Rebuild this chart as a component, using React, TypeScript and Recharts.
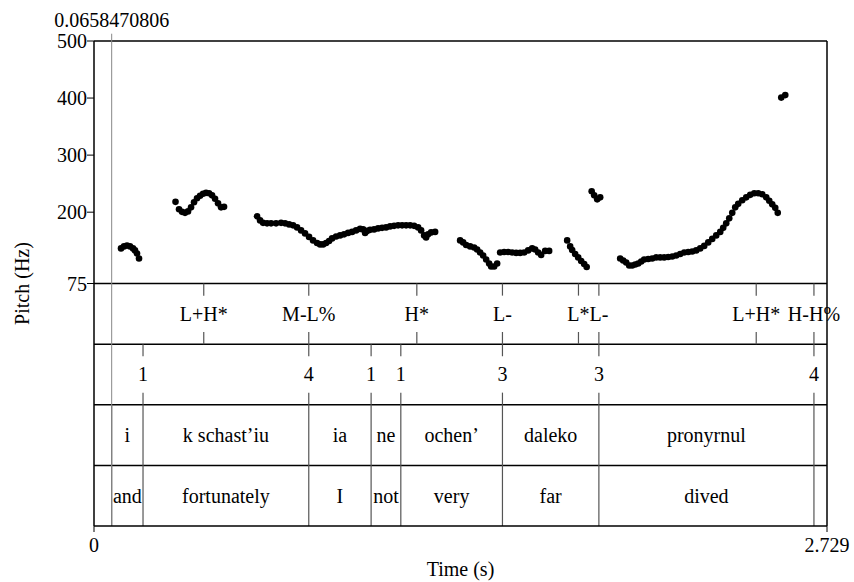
import React from 'react';
import { ScatterChart, Scatter, XAxis, YAxis, ReferenceLine, ReferenceDot } from 'recharts';

const FONT = '"Liberation Serif", "Times New Roman", serif';
const T_END = 2.729;
const CURSOR = 0.0658470806;

// Pitch track (time in s, F0 in Hz)
const pitchTime = [
  0.1006, 0.1117, 0.1229, 0.1341, 0.1453, 0.1527, 0.1601, 0.1676,
  0.3035, 0.3166, 0.3277, 0.3389, 0.3501, 0.3613, 0.3724, 0.3836, 0.3948, 0.4060, 0.4171, 0.4283, 0.4395, 0.4507, 0.4618, 0.4730, 0.4842,
  0.6071, 0.6183, 0.6294, 0.6443, 0.6592, 0.6778, 0.6965, 0.7114, 0.7263, 0.7412, 0.7561, 0.7710, 0.7858, 0.8007, 0.8156, 0.8305, 0.8417, 0.8529,
  0.8641, 0.8752, 0.8864, 0.9013, 0.9162, 0.9311, 0.9460, 0.9609, 0.9758, 0.9907, 1.0019, 1.0093, 1.0168, 1.0279, 1.0428, 1.0577, 1.0726, 1.0875,
  1.1024, 1.1173, 1.1322, 1.1471, 1.1620, 1.1769, 1.1918, 1.2067, 1.2179, 1.2291, 1.2365, 1.2439, 1.2551, 1.2700,
  1.3631, 1.3743, 1.3855, 1.4004, 1.4153, 1.4264, 1.4376, 1.4488, 1.4600, 1.4711, 1.4786, 1.4898, 1.5009,
  1.5121, 1.5270, 1.5419, 1.5568, 1.5717, 1.5866, 1.6015, 1.6164, 1.6313, 1.6425, 1.6536, 1.6648, 1.6797, 1.6946,
  1.7616, 1.7728, 1.7803, 1.7914, 1.8026, 1.8138, 1.8250, 1.8343,
  1.8529, 1.8622, 1.8734, 1.8846,
  1.9590, 1.9702, 1.9814, 1.9926, 2.0037, 2.0149, 2.0261, 2.0373, 2.0484, 2.0633, 2.0782, 2.0931, 2.1080, 2.1229, 2.1378, 2.1527,
  2.1676, 2.1825, 2.1974, 2.2123, 2.2272, 2.2421, 2.2570, 2.2719, 2.2868, 2.3017, 2.3166, 2.3315, 2.3426, 2.3538, 2.3650, 2.3762,
  2.3873, 2.3985, 2.4134, 2.4283, 2.4432, 2.4581, 2.4730, 2.4879, 2.5028, 2.5140, 2.5251, 2.5363, 2.5456,
  2.5587, 2.5736,
];
const pitchHz = [
  136.5, 140.0, 141.7, 140.0, 136.5, 133.0, 127.7, 118.9,
  218.1, 205.0, 200.6, 198.8, 201.4, 208.5, 217.3, 224.3, 228.7, 232.2, 233.9, 233.1, 229.5, 223.4, 215.5, 208.5, 209.3,
  192.7, 185.6, 181.3, 180.4, 180.4, 180.4, 181.3, 180.4, 178.6, 176.9, 173.3, 168.1, 162.8, 156.7, 150.5, 146.1, 143.5, 143.5,
  146.1, 149.6, 154.0, 157.5, 159.3, 161.1, 163.7, 165.4, 168.1, 170.7, 169.8, 163.7, 167.2, 169.0, 169.8, 171.6, 172.5, 173.3,
  175.1, 176.0, 176.9, 176.9, 176.9, 176.9, 176.0, 173.3, 168.1, 159.3, 155.8, 161.1, 164.6, 165.4,
  150.5, 147.0, 142.6, 140.0, 138.2, 134.7, 129.4, 124.2, 117.1, 110.1, 104.9, 104.9, 110.1,
  129.4, 130.3, 130.3, 129.4, 128.6, 128.6, 129.4, 133.0, 136.5, 134.7, 129.4, 125.1, 132.1, 132.1,
  150.5, 140.0, 133.8, 126.8, 120.7, 114.5, 109.2, 104.0,
  236.6, 229.5, 222.5, 226.0,
  118.9, 115.4, 111.9, 106.6, 106.6, 108.4, 110.1, 113.6, 117.1, 118.0, 118.9, 120.7, 120.7, 120.7, 121.5, 122.4,
  124.2, 126.8, 129.4, 130.3, 131.2, 133.0, 136.5, 140.9, 147.0, 153.2, 159.3, 165.4, 172.5, 180.4, 189.2, 198.8,
  208.5, 214.6, 220.8, 226.0, 230.4, 233.1, 233.1, 231.3, 226.0, 219.9, 213.7, 207.6, 198.8,
  400.8, 405.2,
];
const pitchTicks = [75, 200, 300, 400, 500];

// Tier 1: tones (point tier)
const toneTimes = [0.4086, 0.7996, 1.2019, 1.5207, 1.8037, 1.8797, 2.4655, 2.6804];
const toneLabels = ['L+H*', 'M-L%', 'H*', 'L-', 'L*', 'L-', 'L+H*', 'H-H%'];

// Tier 2: breaks (point tier)
const breakTimes = [0.1825, 0.7996, 1.0317, 1.1423, 1.5207, 1.8797, 2.6804];
const breakLabels = ['1', '4', '1', '1', '3', '3', '4'];

// Tiers 3 & 4: words and glosses (interval tiers)
const wordBounds = [0.0658, 0.1825, 0.7996, 1.0317, 1.1423, 1.5207, 1.8797, 2.6804];
const words = ['i', 'k schast\u2019iu', 'ia', 'ne', 'ochen\u2019', 'daleko', 'pronyrnul'];
const glosses = ['and', 'fortunately', 'I', 'not', 'very', 'far', 'dived'];

const txt = { fontFamily: FONT, fontSize: 20, fill: '#000' };

const TextShape = (p: any) => (
  <text x={p.cx} y={p.cy} dy="0.35em" textAnchor="middle" fontFamily={FONT} fontSize={20} fill="#000">
    {p.payload.label}
  </text>
);

const DotShape = (p: any) => <circle cx={p.cx} cy={p.cy} r={3.3} fill="#000" />;

export default function App() {
  const pitchData = pitchTime.map((t, i) => ({ t, hz: pitchHz[i] }));
  const toneData = toneTimes.map((t, i) => ({ t, y: 3.5, label: toneLabels[i] }));
  const breakData = breakTimes.map((t, i) => ({ t, y: 2.5, label: breakLabels[i] }));
  const wordData = words.map((w, i) => ({ t: (wordBounds[i] + wordBounds[i + 1]) / 2, y: 1.5, label: w }));
  const glossData = glosses.map((w, i) => ({ t: (wordBounds[i] + wordBounds[i + 1]) / 2, y: 0.5, label: w }));

  const frame = { stroke: '#000', strokeWidth: 1.5 };
  const bound = { stroke: '#555', strokeWidth: 1.2 };

  return (
    <div style={{ position: 'absolute', left: 0, top: 0, width: 854, height: 582, background: '#fff' }}>
      <ScatterChart width={854} height={582} margin={{ top: 41, right: 27, bottom: 0, left: 0 }}>
        <XAxis
          dataKey="t"
          type="number"
          domain={[0, T_END]}
          ticks={[0, T_END]}
          interval={0}
          tickFormatter={(v: number) => (v === 0 ? '0' : String(v))}
          height={56}
          tickSize={6}
          tickMargin={6}
          axisLine={{ stroke: '#000', strokeWidth: 1.5 }}
          tickLine={{ stroke: '#000' }}
          tick={txt}
          label={{ value: 'Time (s)', position: 'insideBottom', offset: 6, ...txt }}
        />
        <YAxis
          yAxisId="pitch"
          dataKey="hz"
          type="number"
          domain={[-350, 500]}
          ticks={pitchTicks}
          interval={0}
          width={94}
          tickSize={7}
          tickMargin={0}
          axisLine={{ stroke: '#000', strokeWidth: 1.5 }}
          tickLine={{ stroke: '#000' }}
          tick={txt}
          label={{ value: 'Pitch (Hz)', angle: -90, position: 'insideLeft', offset: 22, style: { textAnchor: 'middle' }, ...txt }}
        />
        <YAxis yAxisId="tier" dataKey="y" type="number" domain={[0, 8]} hide />

        <ReferenceLine yAxisId="tier" y={8} {...frame} />
        <ReferenceLine yAxisId="tier" y={4} {...frame} />
        <ReferenceLine yAxisId="tier" y={3} {...frame} />
        <ReferenceLine yAxisId="tier" y={2} {...frame} />
        <ReferenceLine yAxisId="tier" y={1} {...frame} />
        <ReferenceLine yAxisId="tier" x={T_END} {...frame} />

        {wordBounds.map((b) => (
          <ReferenceLine key={'wb' + b} yAxisId="tier" segment={[{ x: b, y: 0 }, { x: b, y: 2 }]} {...bound} />
        ))}
        {toneTimes.map((t) => (
          <ReferenceLine key={'tt1' + t} yAxisId="tier" segment={[{ x: t, y: 4 }, { x: t, y: 3.8 }]} {...bound} />
        ))}
        {toneTimes.map((t) => (
          <ReferenceLine key={'tt2' + t} yAxisId="tier" segment={[{ x: t, y: 3.2 }, { x: t, y: 3 }]} {...bound} />
        ))}
        {breakTimes.map((t) => (
          <ReferenceLine key={'bt1' + t} yAxisId="tier" segment={[{ x: t, y: 3 }, { x: t, y: 2.8 }]} {...bound} />
        ))}
        {breakTimes.map((t) => (
          <ReferenceLine key={'bt2' + t} yAxisId="tier" segment={[{ x: t, y: 2.2 }, { x: t, y: 2 }]} {...bound} />
        ))}

        <ReferenceLine
          yAxisId="tier"
          segment={[{ x: CURSOR, y: 0 }, { x: CURSOR, y: 8.12 }]}
          ifOverflow="visible"
          stroke="#888"
          strokeWidth={1}
        />
        <ReferenceDot
          yAxisId="tier"
          x={CURSOR}
          y={8}
          r={0}
          fill="none"
          stroke="none"
          ifOverflow="visible"
          label={{ value: '0.0658470806', position: 'top', offset: 14, ...txt }}
        />

        <Scatter yAxisId="pitch" data={pitchData} shape={DotShape} isAnimationActive={false} />
        <Scatter yAxisId="tier" data={toneData} shape={TextShape} isAnimationActive={false} />
        <Scatter yAxisId="tier" data={breakData} shape={TextShape} isAnimationActive={false} />
        <Scatter yAxisId="tier" data={wordData} shape={TextShape} isAnimationActive={false} />
        <Scatter yAxisId="tier" data={glossData} shape={TextShape} isAnimationActive={false} />
      </ScatterChart>
    </div>
  );
}
